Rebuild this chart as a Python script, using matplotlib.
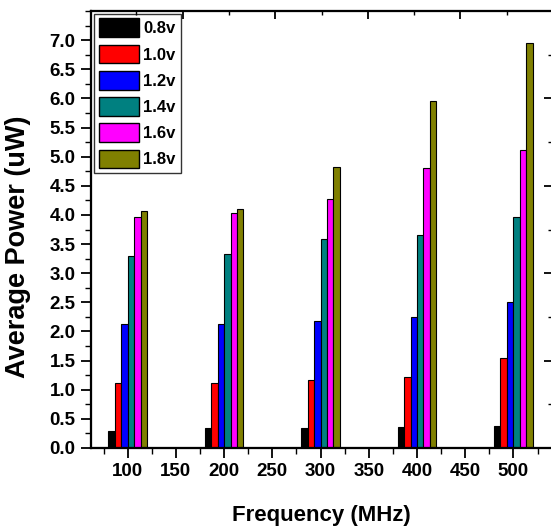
import numpy as np
import matplotlib
matplotlib.use("Agg")
import matplotlib.pyplot as plt
from matplotlib.ticker import MultipleLocator, FixedLocator, NullFormatter

plt.rcParams['font.family'] = ['Liberation Sans', 'DejaVu Sans']
plt.rcParams['font.weight'] = 'bold'

# data
freqs = [100, 200, 300, 400, 500]
voltages = ['0.8v', '1.0v', '1.2v', '1.4v', '1.6v', '1.8v']
power = {
	'0.8v': [0.30, 0.34, 0.35, 0.36, 0.37],
	'1.0v': [1.12, 1.12, 1.17, 1.22, 1.54],
	'1.2v': [2.12, 2.12, 2.18, 2.25, 2.51],
	'1.4v': [3.30, 3.33, 3.58, 3.66, 3.96],
	'1.6v': [3.96, 4.03, 4.28, 4.81, 5.12],
	'1.8v': [4.06, 4.11, 4.83, 5.96, 6.95],
}
colors = ['#000000', '#ff0000', '#0000ff', '#008080', '#ff00ff', '#808000']

fig = plt.figure(figsize=(5.51, 5.29), dpi=100)
ax = fig.add_axes([91/551, 81/529, 461/551, 437/529])

bar_w = 6.7
x = np.array(freqs, dtype=float)
for i, v in enumerate(voltages):
	ax.bar(x + (i - 2.5) * bar_w, power[v], width=bar_w, color=colors[i],
		   edgecolor='black', linewidth=0.8, label=v)

ax.set_xlim(62, 540)
ax.set_ylim(0, 7.5)
ax.xaxis.set_major_locator(FixedLocator(np.arange(100, 501, 50)))
ax.xaxis.set_minor_locator(MultipleLocator(25))
ax.yaxis.set_major_locator(FixedLocator(np.arange(0, 7.01, 0.5)))
ax.yaxis.set_minor_locator(MultipleLocator(0.25))
ax.yaxis.set_major_formatter(matplotlib.ticker.FormatStrFormatter('%.1f'))

for s in ax.spines.values():
	s.set_linewidth(1.5)
ax.tick_params(which='major', direction='out', length=7, width=1.3, labelsize=13.5, pad=4)
ax.tick_params(which='minor', direction='out', length=4, width=1.0)
ax.tick_params(top=False, right=False)

# top axis ticks (not linked to bottom scale in the original)
axt = ax.twiny()
axt.set_xlim(ax.get_xlim())
axt.xaxis.set_major_locator(FixedLocator([157, 253, 349, 445]))
axt.xaxis.set_minor_locator(FixedLocator([109, 205, 301, 397, 493]))
axt.xaxis.set_major_formatter(NullFormatter())
axt.tick_params(which='major', direction='in', length=6, width=1.3)
axt.tick_params(which='minor', direction='in', length=3, width=1.0)

# right axis ticks
axr = ax.twinx()
axr.set_ylim(ax.get_ylim())
axr.yaxis.set_major_locator(MultipleLocator(1.5))
axr.yaxis.set_minor_locator(MultipleLocator(0.75))
axr.yaxis.set_major_formatter(NullFormatter())
axr.tick_params(which='major', direction='in', length=6, width=1.3)
axr.tick_params(which='minor', direction='in', length=3, width=1.0)
for a in (axt, axr):
	for s in a.spines.values():
		s.set_linewidth(1.5)

ax.set_xlabel('Frequency (MHz)', fontsize=16, fontweight='bold', labelpad=18)
ax.set_ylabel('Average Power (uW)', fontsize=19.5, fontweight='bold')
ax.yaxis.set_label_coords(-0.130, 0.461)

leg = ax.legend(loc='upper left', frameon=True, fancybox=False,
				edgecolor='black', handlelength=2.4, handleheight=1.35,
				labelspacing=0.45, handletextpad=0.3, borderpad=0.3,
				borderaxespad=0.15, prop={'weight': 'bold', 'size': 12})
leg.get_frame().set_linewidth(1.0)
for h in leg.legend_handles:
	h.set_edgecolor('black')
	h.set_linewidth(1.0)

fig.savefig('out.png', dpi=100)
